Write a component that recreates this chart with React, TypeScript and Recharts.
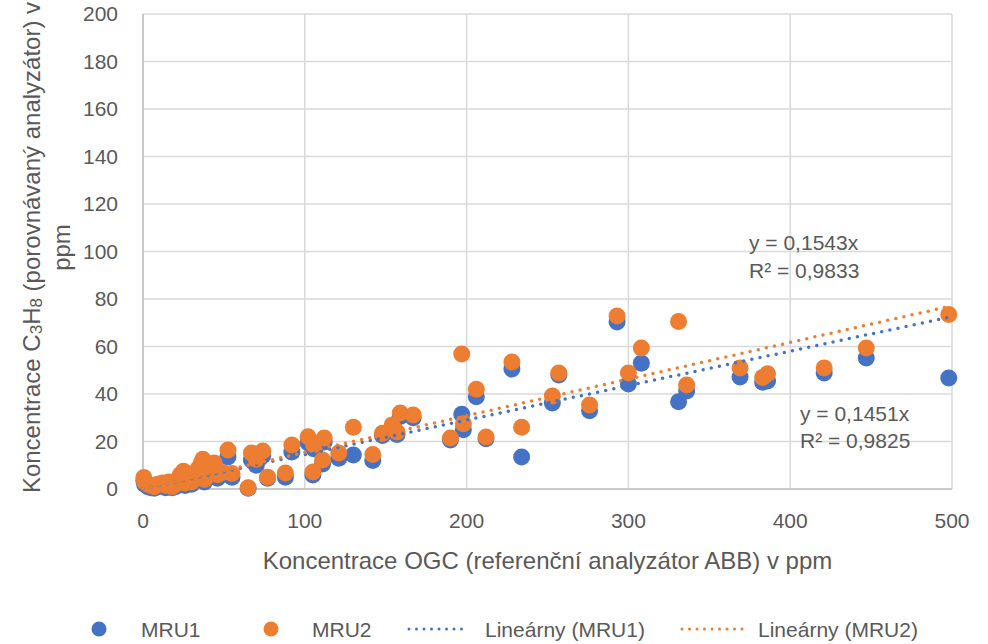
import React from 'react';
import { ScatterChart, Scatter, XAxis, YAxis, CartesianGrid, Legend, Customized } from 'recharts';

// reference analyser (ABB) readings and the two compared analysers, ppm
const refX = [
  0.5, 1, 3, 5, 7, 9, 12, 14, 16, 18, 20, 22, 23, 25, 26, 28, 30, 32, 34, 36,
  37, 38, 40, 42, 44, 46, 49, 52.5, 55, 65, 67, 70, 74, 77, 88, 92, 102, 105,
  105.5, 111, 112, 121, 130, 142, 148, 154, 157, 159, 167, 190, 197, 198, 206,
  212, 228, 234, 253, 257, 276, 293, 300, 308, 331, 336, 369, 383, 386, 421, 447, 498,
];
const mru1 = [
  3.5, 2, 1, 0.5, 0.3, 1, 1.5, 0.5, 2, 0.5, 1, 3, 5, 6.5, 1.5, 3.5, 2, 4, 7, 9.5,
  11, 3, 5.5, 8, 10, 4.5, 6, 13.5, 5, 0.3, 12.2, 10, 14, 4.5, 5, 15.6, 19.5, 5.9,
  17, 10.5, 19.8, 13, 14.3, 12, 22.5, 25.5, 23, 30.5, 30, 20.6, 31.5, 25, 38.8,
  21.2, 50.5, 13.5, 36.2, 48, 33, 70.3, 44.2, 53, 36.7, 41.3, 47.2, 45, 45.5, 48.8, 55.2, 46.7,
];
const mru2 = [
  4.8, 3, 2, 1.5, 1, 2, 2.5, 1.5, 3, 1, 2, 4.5, 6, 7.5, 2.5, 4.5, 3, 5, 8.5, 11,
  12.5, 4, 7, 9.5, 11, 6, 7, 16.4, 6.5, 0.5, 15.2, 12.5, 16, 5, 6.7, 18.5, 22, 7.2,
  18.5, 12.2, 21.5, 15.2, 26, 14.5, 23.5, 27, 24, 32, 31.2, 21.5, 56.8, 27.5, 42,
  21.9, 53.5, 26, 39.2, 48.8, 35.4, 72.8, 48.8, 59.4, 70.5, 43.8, 51, 47, 48.5, 51, 59.4, 73.5,
];
// linear trends through the origin, as printed on the chart
const slope1 = 0.1451;
const slope2 = 0.1543;
const xTicks = [0, 100, 200, 300, 400, 500];
const yTicks = [0, 20, 40, 60, 80, 100, 120, 140, 160, 180, 200];

const BLUE = '#4472C4';
const ORANGE = '#ED7D31';
const TEXT = '#595959';
const FONT = '"Liberation Sans", Arial, sans-serif';
const FS = 21;
const TITLE_FS = 24;

const pts1 = refX.map((x, i) => ({ x, y: mru1[i] }));
const pts2 = refX.map((x, i) => ({ x, y: mru2[i] }));
const xMax = Math.max(...refX);
const trend1 = [{ x: 0, y: 0 }, { x: xMax, y: slope1 * xMax }];
const trend2 = [{ x: 0, y: 0 }, { x: xMax, y: slope2 * xMax }];

const dot = (color: string) => (props: any) => (
  <circle cx={props.cx} cy={props.cy} r={8.5} fill={color} />
);
const noDot = () => <g />;

const dotted = (color: string) => ({
  stroke: color,
  strokeWidth: 3.5,
  strokeDasharray: '0 8.3',
  strokeLinecap: 'round' as const,
});

const YTitle = (props: any) => {
  const vb = props.viewBox;
  const cy = vb.y + vb.height / 2 - 4;
  const sub = { fontSize: 17 };
  return (
    <g fill={TEXT} fontFamily={FONT} fontSize={TITLE_FS}>
      <text transform={`translate(31, ${cy}) rotate(-90)`} textAnchor="middle" dominantBaseline="central">
        Koncentrace C<tspan {...sub} dy={5}>3</tspan>
        <tspan dy={-5}>H</tspan>
        <tspan {...sub} dy={5}>8</tspan>
        <tspan dy={-5}> (porovnávaný analyzátor) v</tspan>
      </text>
      <text transform={`translate(61, ${cy}) rotate(-90)`} textAnchor="middle" dominantBaseline="central">
        ppm
      </text>
    </g>
  );
};

const XTitle = (props: any) => {
  const vb = props.viewBox;
  return (
    <text x={vb.x + vb.width / 2} y={560} textAnchor="middle" dominantBaseline="central"
      fill={TEXT} fontFamily={FONT} fontSize={TITLE_FS}>
      Koncentrace OGC (referenční analyzátor ABB) v ppm
    </text>
  );
};

const Equations = () => (
  <g fill={TEXT} fontFamily={FONT} fontSize={FS} dominantBaseline="central">
    <text x={749} y={242}>y = 0,1543x</text>
    <text x={749} y={270}>R² = 0,9833</text>
    <text x={800} y={413}>y = 0,1451x</text>
    <text x={800} y={440}>R² = 0,9825</text>
  </g>
);

const LegendRow = () => (
  <svg width={988} height={40} style={{ overflow: 'visible', display: 'block' }}>
    <g fill={TEXT} fontFamily={FONT} fontSize={FS} dominantBaseline="central">
      <circle cx={99} cy={25} r={7.5} fill={BLUE} />
      <text x={141} y={25}>MRU1</text>
      <circle cx={271} cy={25} r={7.5} fill={ORANGE} />
      <text x={312} y={25}>MRU2</text>
      <line x1={409} y1={25} x2={469} y2={25} {...dotted(BLUE)} strokeWidth={3} strokeDasharray="0 7.5" />
      <text x={485} y={25}>Lineárny (MRU1)</text>
      <line x1={682} y1={25} x2={743} y2={25} {...dotted(ORANGE)} strokeWidth={3} strokeDasharray="0 7.5" />
      <text x={758} y={25}>Lineárny (MRU2)</text>
    </g>
  </svg>
);

export default function App() {
  return (
    <div style={{ width: 988, height: 644, overflow: 'hidden' }}>
      <style>{'body { margin: 0; }'}</style>
      <ScatterChart width={988} height={644} margin={{ top: 14, right: 36, bottom: 0, left: 0 }}>
        <CartesianGrid stroke="#d9d9d9" strokeWidth={1.5} />
        <XAxis
          type="number"
          dataKey="x"
          domain={[0, 500]}
          ticks={xTicks}
          height={115}
          tickLine={false}
          tickSize={0}
          tickMargin={24}
          axisLine={{ stroke: '#bfbfbf', strokeWidth: 1.5 }}
          tick={{ fill: TEXT, fontSize: FS, fontFamily: FONT }}
          label={<XTitle />}
        />
        <YAxis
          type="number"
          dataKey="y"
          domain={[0, 200]}
          ticks={yTicks}
          width={143}
          tickLine={false}
          tickSize={0}
          tickMargin={25}
          axisLine={{ stroke: '#bfbfbf', strokeWidth: 1.5 }}
          tick={{ fill: TEXT, fontSize: FS, fontFamily: FONT }}
          label={<YTitle />}
        />
        <Scatter name="MRU1" data={pts1} fill={BLUE} shape={dot(BLUE)} isAnimationActive={false} />
        <Scatter name="MRU2" data={pts2} fill={ORANGE} shape={dot(ORANGE)} isAnimationActive={false} />
        <Scatter name="Lineárny (MRU1)" data={trend1} fill={BLUE} shape={noDot} line={dotted(BLUE)} isAnimationActive={false} />
        <Scatter name="Lineárny (MRU2)" data={trend2} fill={ORANGE} shape={noDot} line={dotted(ORANGE)} isAnimationActive={false} />
        <Customized component={Equations} />
        <Legend verticalAlign="bottom" height={40} content={() => <LegendRow />} />
      </ScatterChart>
    </div>
  );
}
